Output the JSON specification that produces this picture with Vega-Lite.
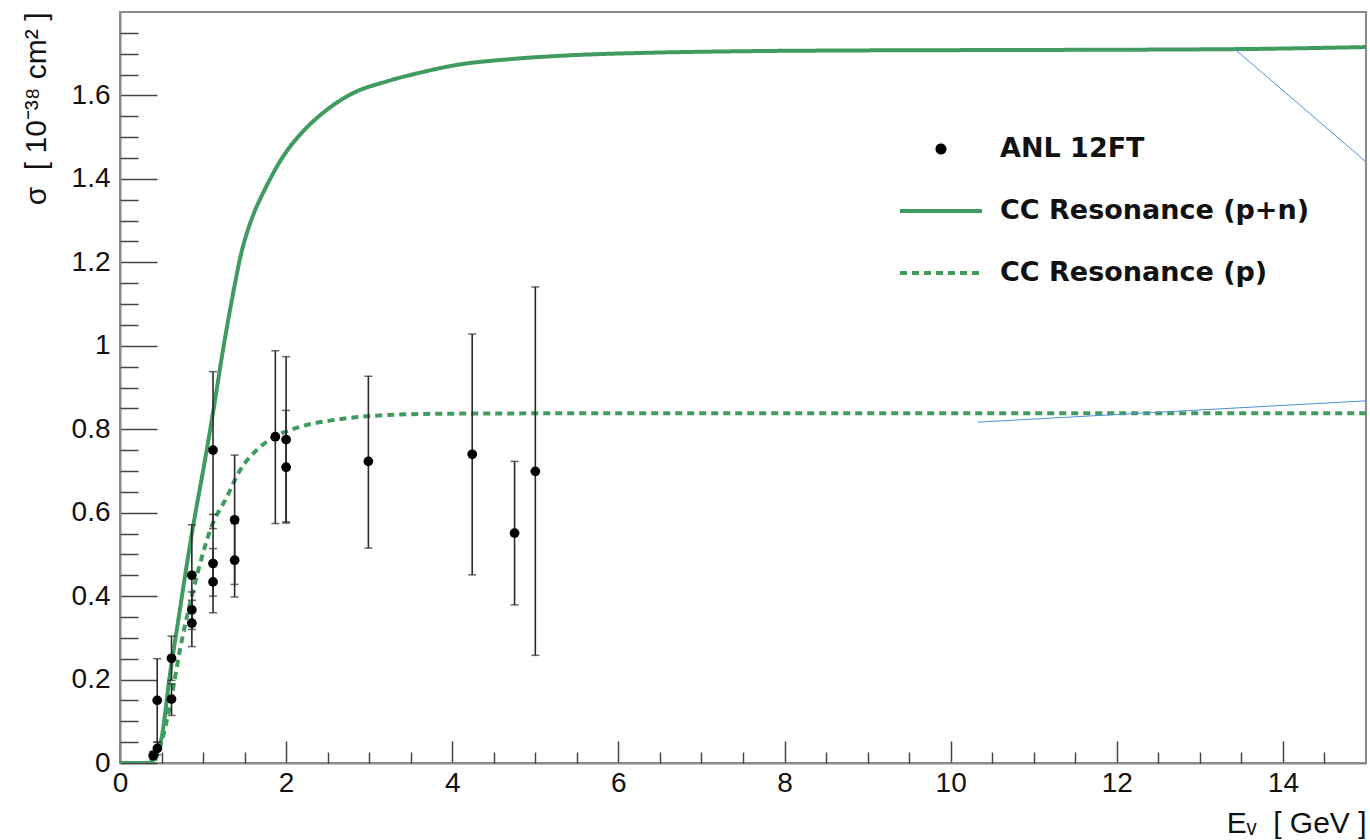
{
  "$schema": "https://vega.github.io/schema/vega-lite/v6.json",
  "width": 1246,
  "height": 751,
  "autosize": "none",
  "padding": {"left": 120, "top": 12, "right": 4, "bottom": 77},
  "background": "white",
  "config": {
    "view": {"stroke": "#8a8a8a", "strokeWidth": 2},
    "font": "Liberation Sans"
  },
  "datasets": {
    "curves": [
      {"E": 0, "sigma": 0, "series": "CC Resonance (p+n)"},
      {"E": 0.36, "sigma": 0, "series": "CC Resonance (p+n)"},
      {"E": 0.42, "sigma": 0.015, "series": "CC Resonance (p+n)"},
      {"E": 0.5, "sigma": 0.06, "series": "CC Resonance (p+n)"},
      {"E": 0.6, "sigma": 0.21, "series": "CC Resonance (p+n)"},
      {"E": 0.7, "sigma": 0.34, "series": "CC Resonance (p+n)"},
      {"E": 0.8, "sigma": 0.47, "series": "CC Resonance (p+n)"},
      {"E": 0.9, "sigma": 0.59, "series": "CC Resonance (p+n)"},
      {"E": 1.0, "sigma": 0.70, "series": "CC Resonance (p+n)"},
      {"E": 1.12, "sigma": 0.84, "series": "CC Resonance (p+n)"},
      {"E": 1.24, "sigma": 0.99, "series": "CC Resonance (p+n)"},
      {"E": 1.31, "sigma": 1.07, "series": "CC Resonance (p+n)"},
      {"E": 1.38, "sigma": 1.145, "series": "CC Resonance (p+n)"},
      {"E": 1.46, "sigma": 1.222, "series": "CC Resonance (p+n)"},
      {"E": 1.54, "sigma": 1.278, "series": "CC Resonance (p+n)"},
      {"E": 1.62, "sigma": 1.322, "series": "CC Resonance (p+n)"},
      {"E": 1.7, "sigma": 1.357, "series": "CC Resonance (p+n)"},
      {"E": 1.8, "sigma": 1.397, "series": "CC Resonance (p+n)"},
      {"E": 1.92, "sigma": 1.44, "series": "CC Resonance (p+n)"},
      {"E": 2.05, "sigma": 1.478, "series": "CC Resonance (p+n)"},
      {"E": 2.2, "sigma": 1.513, "series": "CC Resonance (p+n)"},
      {"E": 2.5, "sigma": 1.567, "series": "CC Resonance (p+n)"},
      {"E": 2.8, "sigma": 1.605, "series": "CC Resonance (p+n)"},
      {"E": 3.2, "sigma": 1.633, "series": "CC Resonance (p+n)"},
      {"E": 3.6, "sigma": 1.654, "series": "CC Resonance (p+n)"},
      {"E": 4.05, "sigma": 1.673, "series": "CC Resonance (p+n)"},
      {"E": 4.7, "sigma": 1.687, "series": "CC Resonance (p+n)"},
      {"E": 5.5, "sigma": 1.697, "series": "CC Resonance (p+n)"},
      {"E": 6.3, "sigma": 1.702, "series": "CC Resonance (p+n)"},
      {"E": 7.5, "sigma": 1.706, "series": "CC Resonance (p+n)"},
      {"E": 9, "sigma": 1.708, "series": "CC Resonance (p+n)"},
      {"E": 11, "sigma": 1.709, "series": "CC Resonance (p+n)"},
      {"E": 13.4, "sigma": 1.711, "series": "CC Resonance (p+n)"},
      {"E": 15, "sigma": 1.716, "series": "CC Resonance (p+n)"},
      {"E": 0, "sigma": 0, "series": "CC Resonance (p)"},
      {"E": 0.38, "sigma": 0, "series": "CC Resonance (p)"},
      {"E": 0.45, "sigma": 0.02, "series": "CC Resonance (p)"},
      {"E": 0.55, "sigma": 0.09, "series": "CC Resonance (p)"},
      {"E": 0.64, "sigma": 0.18, "series": "CC Resonance (p)"},
      {"E": 0.72, "sigma": 0.27, "series": "CC Resonance (p)"},
      {"E": 0.8, "sigma": 0.345, "series": "CC Resonance (p)"},
      {"E": 0.94, "sigma": 0.46, "series": "CC Resonance (p)"},
      {"E": 1.1, "sigma": 0.566, "series": "CC Resonance (p)"},
      {"E": 1.28, "sigma": 0.635, "series": "CC Resonance (p)"},
      {"E": 1.44, "sigma": 0.70, "series": "CC Resonance (p)"},
      {"E": 1.645, "sigma": 0.75, "series": "CC Resonance (p)"},
      {"E": 1.865, "sigma": 0.782, "series": "CC Resonance (p)"},
      {"E": 2.17, "sigma": 0.806, "series": "CC Resonance (p)"},
      {"E": 2.57, "sigma": 0.822, "series": "CC Resonance (p)"},
      {"E": 2.97, "sigma": 0.831, "series": "CC Resonance (p)"},
      {"E": 3.77, "sigma": 0.837, "series": "CC Resonance (p)"},
      {"E": 5, "sigma": 0.838, "series": "CC Resonance (p)"},
      {"E": 15, "sigma": 0.838, "series": "CC Resonance (p)"}
    ],
    "points": [
      {"E": 0.40, "sigma": 0.018, "lo": 0.008, "hi": 0.028, "series": "ANL 12FT"},
      {"E": 0.45, "sigma": 0.035, "lo": 0.02, "hi": 0.05, "series": "ANL 12FT"},
      {"E": 0.448, "sigma": 0.150, "lo": 0.05, "hi": 0.25, "series": "ANL 12FT"},
      {"E": 0.62, "sigma": 0.251, "lo": 0.198, "hi": 0.304, "series": "ANL 12FT"},
      {"E": 0.62, "sigma": 0.153, "lo": 0.114, "hi": 0.19, "series": "ANL 12FT"},
      {"E": 0.865, "sigma": 0.45, "lo": 0.33, "hi": 0.571, "series": "ANL 12FT"},
      {"E": 0.865, "sigma": 0.367, "lo": 0.32, "hi": 0.41, "series": "ANL 12FT"},
      {"E": 0.865, "sigma": 0.335, "lo": 0.279, "hi": 0.39, "series": "ANL 12FT"},
      {"E": 1.12, "sigma": 0.75, "lo": 0.562, "hi": 0.938, "series": "ANL 12FT"},
      {"E": 1.12, "sigma": 0.478, "lo": 0.40, "hi": 0.596, "series": "ANL 12FT"},
      {"E": 1.12, "sigma": 0.434, "lo": 0.36, "hi": 0.514, "series": "ANL 12FT"},
      {"E": 1.38, "sigma": 0.583, "lo": 0.428, "hi": 0.738, "series": "ANL 12FT"},
      {"E": 1.38, "sigma": 0.486, "lo": 0.398, "hi": 0.574, "series": "ANL 12FT"},
      {"E": 1.87, "sigma": 0.782, "lo": 0.574, "hi": 0.988, "series": "ANL 12FT"},
      {"E": 2.0, "sigma": 0.775, "lo": 0.575, "hi": 0.974, "series": "ANL 12FT"},
      {"E": 2.0, "sigma": 0.709, "lo": 0.578, "hi": 0.845, "series": "ANL 12FT"},
      {"E": 2.99, "sigma": 0.723, "lo": 0.515, "hi": 0.927, "series": "ANL 12FT"},
      {"E": 4.24, "sigma": 0.740, "lo": 0.451, "hi": 1.028, "series": "ANL 12FT"},
      {"E": 4.75, "sigma": 0.551, "lo": 0.379, "hi": 0.723, "series": "ANL 12FT"},
      {"E": 5.0, "sigma": 0.699, "lo": 0.258, "hi": 1.141, "series": "ANL 12FT"}
    ],
    "annot": [
      {"E": 13.42, "sigma": 1.711, "seg": "a"},
      {"E": 15.0, "sigma": 1.441, "seg": "a"},
      {"E": 10.33, "sigma": 0.817, "seg": "b"},
      {"E": 15.0, "sigma": 0.868, "seg": "b"}
    ]
  },
  "resolve": {"axis": {"x": "independent", "y": "independent"}},
  "layer": [
    {
      "encoding": {
        "x": {
          "field": "E", "type": "quantitative",
          "scale": {"domain": [0, 15], "nice": false, "zero": false},
          "axis": {
            "orient": "bottom",
            "values": [0, 2, 4, 6, 8, 10, 12, 14],
            "format": "d",
            "labelFlush": false, "labelOverlap": false, "labelBound": false,
            "ticks": true, "tickSize": -22,
            "tickColor": "#444", "tickWidth": 1.5,
            "domainColor": "#8a8a8a", "domainWidth": 2,
            "grid": false,
            "labelFont": "Liberation Sans", "labelFontSize": 28, "labelColor": "#111", "labelPadding": 28,
            "title": "Eᵥ\u00a0\u00a0[ GeV ]", "titleFont": "Liberation Sans", "titleFontSize": 30, "titleFontWeight": "normal", "titleColor": "#111",
            "titleX": 1246, "titleY": 60, "titleAlign": "right", "titleBaseline": "middle", "titleAnchor": "end"
          }
        },
        "y": {
          "field": "sigma", "type": "quantitative",
          "scale": {"domain": [0, 1.8], "nice": false, "zero": false},
          "axis": {
            "orient": "left",
            "values": [0, 0.2, 0.4, 0.6, 0.8, 1, 1.2, 1.4, 1.6],
            "labelExpr": "format(datum.value, '.1~f')",
            "labelOverlap": false, "labelBound": false, "labelFlush": false,
            "ticks": true, "tickSize": -37,
            "tickColor": "#444", "tickWidth": 1.5,
            "domainColor": "#8a8a8a", "domainWidth": 2,
            "grid": false,
            "labelFont": "Liberation Sans", "labelFontSize": 28, "labelColor": "#111", "labelPadding": 47,
            "title": "σ\u00a0\u00a0[ 10⁻³⁸ cm² ]", "titleFont": "Liberation Sans", "titleFontSize": 30, "titleFontWeight": "normal", "titleColor": "#111",
            "titleX": -84, "titleY": 0, "titleAngle": -90, "titleAlign": "right", "titleBaseline": "middle", "titleAnchor": "end"
          }
        }
      },
      "layer": [
        {
          "data": {"name": "curves"},
          "mark": {"type": "line", "strokeWidth": 4, "clip": true, "interpolate": "monotone"},
          "encoding": {
            "color": {
              "field": "series", "type": "nominal",
              "scale": {"domain": ["ANL 12FT", "CC Resonance (p+n)", "CC Resonance (p)"], "range": ["#000000", "#3f9b5f", "#3f9b5f"]},
              "legend": {
                "orient": "none", "legendX": 778, "legendY": 106, "title": null,
                "padding": 0, "clipHeight": 62, "rowPadding": 0,
                "labelFont": "DejaVu Sans", "labelFontSize": 27, "labelFontWeight": "bold", "labelColor": "#111", "labelOffset": 16, "labelLimit": 500,
                "symbolStrokeWidth": 4,
                "encode": {"symbols": {"update": {
                  "shape": {"signal": "datum.value === 'ANL 12FT' ? 'circle' : 'stroke'"},
                  "size": {"signal": "datum.value === 'ANL 12FT' ? 50 : 6724"},
                  "fill": {"signal": "datum.value === 'ANL 12FT' ? '#000000' : 'transparent'"},
                  "stroke": {"signal": "datum.value === 'ANL 12FT' ? 'transparent' : '#3f9b5f'"},
                  "strokeWidth": {"value": 4},
                  "strokeDash": {"signal": "datum.value === 'CC Resonance (p)' ? [7,5] : [1,0]"},
                  "opacity": {"value": 1}
                }}}
              }
            },
            "strokeDash": {
              "field": "series", "type": "nominal",
              "scale": {"domain": ["CC Resonance (p+n)", "CC Resonance (p)"], "range": [[1, 0], [7, 5]]},
              "legend": null
            }
          }
        },
        {
          "data": {"name": "points"},
          "mark": {"type": "rule", "stroke": "#2a2a2a", "strokeWidth": 1.6},
          "encoding": {
            "y": {"field": "lo", "type": "quantitative", "scale": {"domain": [0, 1.8], "nice": false, "zero": false}},
            "y2": {"field": "hi"}
          }
        },
        {
          "data": {"name": "points"},
          "mark": {"type": "tick", "orient": "horizontal", "color": "#2a2a2a", "size": 8, "thickness": 1.5},
          "encoding": {
            "y": {"field": "lo", "type": "quantitative", "scale": {"domain": [0, 1.8], "nice": false, "zero": false}}
          }
        },
        {
          "data": {"name": "points"},
          "mark": {"type": "tick", "orient": "horizontal", "color": "#2a2a2a", "size": 8, "thickness": 1.5},
          "encoding": {
            "y": {"field": "hi", "type": "quantitative", "scale": {"domain": [0, 1.8], "nice": false, "zero": false}}
          }
        },
        {
          "data": {"name": "points"},
          "mark": {"type": "point", "filled": true, "size": 95, "opacity": 1, "shape": "circle"},
          "encoding": {
            "color": {"field": "series", "type": "nominal"}
          }
        }
      ]
    },
    {
      "data": {"name": "annot"},
      "mark": {"type": "line", "stroke": "#4a8fd8", "strokeWidth": 1, "clip": true},
      "encoding": {
        "x": {
          "field": "E", "type": "quantitative",
          "scale": {"domain": [0, 15], "nice": false, "zero": false},
          "axis": {
            "orient": "bottom",
            "values": [0.5,1,1.5,2.5,3,3.5,4.5,5,5.5,6.5,7,7.5,8.5,9,9.5,10.5,11,11.5,12.5,13,13.5,14.5],
            "labels": false, "domain": false, "grid": false, "title": null,
            "ticks": true, "tickSize": -11, "tickColor": "#444", "tickWidth": 1.5
          }
        },
        "y": {
          "field": "sigma", "type": "quantitative",
          "scale": {"domain": [0, 1.8], "nice": false, "zero": false},
          "axis": {
            "orient": "left",
            "values": [0.05,0.1,0.15,0.25,0.3,0.35,0.45,0.5,0.55,0.65,0.7,0.75,0.85,0.9,0.95,1.05,1.1,1.15,1.25,1.3,1.35,1.45,1.5,1.55,1.65,1.7,1.75],
            "labels": false, "domain": false, "grid": false, "title": null,
            "ticks": true, "tickSize": -18, "tickColor": "#444", "tickWidth": 1.5
          }
        },
        "detail": {"field": "seg", "type": "nominal"}
      }
    }
  ]
}
